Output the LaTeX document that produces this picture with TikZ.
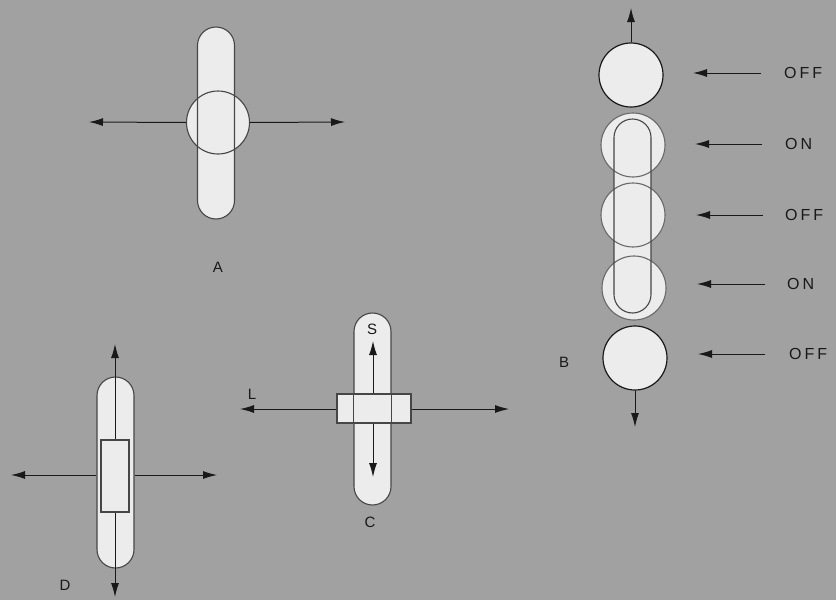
\documentclass[tikz,border=0pt]{standalone}
\usepackage{fontspec}
\newfontfamily\labfont[LetterSpace=19]{Liberation Sans}
\newfontfamily\letfont{Liberation Sans}
\usetikzlibrary{arrows.meta}
\definecolor{bg}{RGB}{161,161,161}
\definecolor{light}{RGB}{236,236,236}
\definecolor{ink}{RGB}{25,25,25}
\definecolor{rim}{RGB}{70,70,70}
\definecolor{pale}{RGB}{105,105,105}
\begin{document}
\begin{tikzpicture}[x=1pt,y=-1pt,
  stad/.style={rectangle, minimum width=37pt, minimum height=#1, rounded corners=18.5pt, inner sep=0pt},
  disk/.style={circle, minimum size=64pt, inner sep=0pt},
  box/.style={rectangle, inner sep=0pt},
  paint/.style={fill=light, draw=none},
  rimline/.style={draw=rim, line width=1.1pt, fill=none},
  paleline/.style={draw=pale, line width=1.1pt, fill=none},
  inkline/.style={draw=ink, line width=1.2pt, fill=none},
  arr/.style={draw=ink, line width=1pt, -{Latex[length=14pt,width=8pt]}},
  word/.style={font=\labfont\fontsize{16}{16}\selectfont, text=ink, inner sep=0pt, anchor=west},
  letter/.style={font=\letfont\fontsize{15}{15}\selectfont, text=ink, inner sep=0pt}
]
\fill[bg] (0,0) rectangle (836,600);
\useasboundingbox (0,0) rectangle (836,600);

% ---------- A ----------
\node[stad=192pt, paint] (aSf) at (216,123) {};
\node[disk, minimum size=63pt, paint] (aCf) at (218,122.5) {};
\node[stad=192pt, rimline] (aS) at (216,123) {};
\node[disk, minimum size=63pt, rimline] (aC) at (218,122.5) {};
\coordinate (aL) at (89,122);
\coordinate (aR) at (345,122);
\draw[arr] (aC.west) -- (aL);
\draw[arr] (aC.east) -- (aR);
\node[letter] (labA) at (218,267) {A};

% ---------- B ----------
\node[disk, paint] (b1f) at (631,75) {};
\node[disk, paint] (b2f) at (633,145) {};
\node[disk, paint] (b3f) at (633,215) {};
\node[disk, paint] (b4f) at (634,288) {};
\node[disk, paint] (b5f) at (635,358) {};
\node[stad=194pt, paint] (bSf) at (632.5,216) {};
\node[disk, inkline] (b1) at (631,75) {};
\node[disk, paleline] (b2) at (633,145) {};
\node[disk, paleline] (b3) at (633,215) {};
\node[disk, paleline] (b4) at (634,288) {};
\node[disk, inkline] (b5) at (635,358) {};
\node[stad=194pt, rimline] (bS) at (632.5,216) {};
\coordinate (bUp) at (631,8);
\coordinate (bDn) at (635,427);
\draw[arr] (b1.north) -- (bUp);
\draw[arr] (b5.south) -- (bDn);
\coordinate (s1) at (761,73);  \coordinate (t1) at (693,73);
\coordinate (s2) at (762,144); \coordinate (t2) at (695,144);
\coordinate (s3) at (763,215); \coordinate (t3) at (696,215);
\coordinate (s4) at (765,284); \coordinate (t4) at (697,284);
\coordinate (s5) at (765,354); \coordinate (t5) at (698,354);
\draw[arr] (s1) -- (t1);
\draw[arr] (s2) -- (t2);
\draw[arr] (s3) -- (t3);
\draw[arr] (s4) -- (t4);
\draw[arr] (s5) -- (t5);
\node[word] (w1) at (784,73) {OFF};
\node[word] (w2) at (785,144) {ON};
\node[word] (w3) at (785,215) {OFF};
\node[word] (w4) at (787,284) {ON};
\node[word] (w5) at (789,354) {OFF};
\node[letter] (labB) at (564,362) {B};

% ---------- C ----------
\node[stad=192pt, paint] (cSf) at (372.5,409) {};
\node[stad=192pt, rimline] (cS) at (372.5,409) {};
\node[box, minimum width=74pt, minimum height=29pt, paint] (cRf) at (374,408.5) {};
\node[box, minimum width=74pt, minimum height=29pt, rimline] (cR) at (374,408.5) {};
\draw[rimline] (cS.north west |- cR.north) -- (cS.north west |- cR.south);
\draw[rimline] (cS.north east |- cR.north) -- (cS.north east |- cR.south);
\coordinate (cU) at (373,341);
\coordinate (cD) at (373,477);
\coordinate (cL) at (240,409);
\coordinate (cRt) at (509,409);
\draw[arr] (cU |- cR.north) -- (cU);
\draw[arr] (cD |- cR.south) -- (cD);
\draw[arr] (cR.west |- cL) -- (cL);
\draw[arr] (cR.east |- cRt) -- (cRt);
\node[letter] (labS) at (372,329) {S};
\node[letter] (labL) at (252,394) {L};
\node[letter] (labC) at (370,522) {C};

% ---------- D ----------
\node[stad=191pt, paint] (dSf) at (115.5,472.5) {};
\node[stad=191pt, rimline] (dS) at (115.5,472.5) {};
\node[box, minimum width=28pt, minimum height=72pt, paint] (dRf) at (115,476) {};
\node[box, minimum width=28pt, minimum height=72pt, rimline] (dR) at (115,476) {};
\coordinate (dU) at (115,344);
\coordinate (dD) at (115,597);
\coordinate (dL) at (11,475);
\coordinate (dRt) at (217,475);
\draw[arr] (dR.north) -- (dU);
\draw[arr] (dR.south) -- (dD);
\draw[arr] (dS.west |- dL) -- (dL);
\draw[arr] (dS.east |- dRt) -- (dRt);
\node[letter] (labD) at (65,585) {D};
\end{tikzpicture}
\end{document}
